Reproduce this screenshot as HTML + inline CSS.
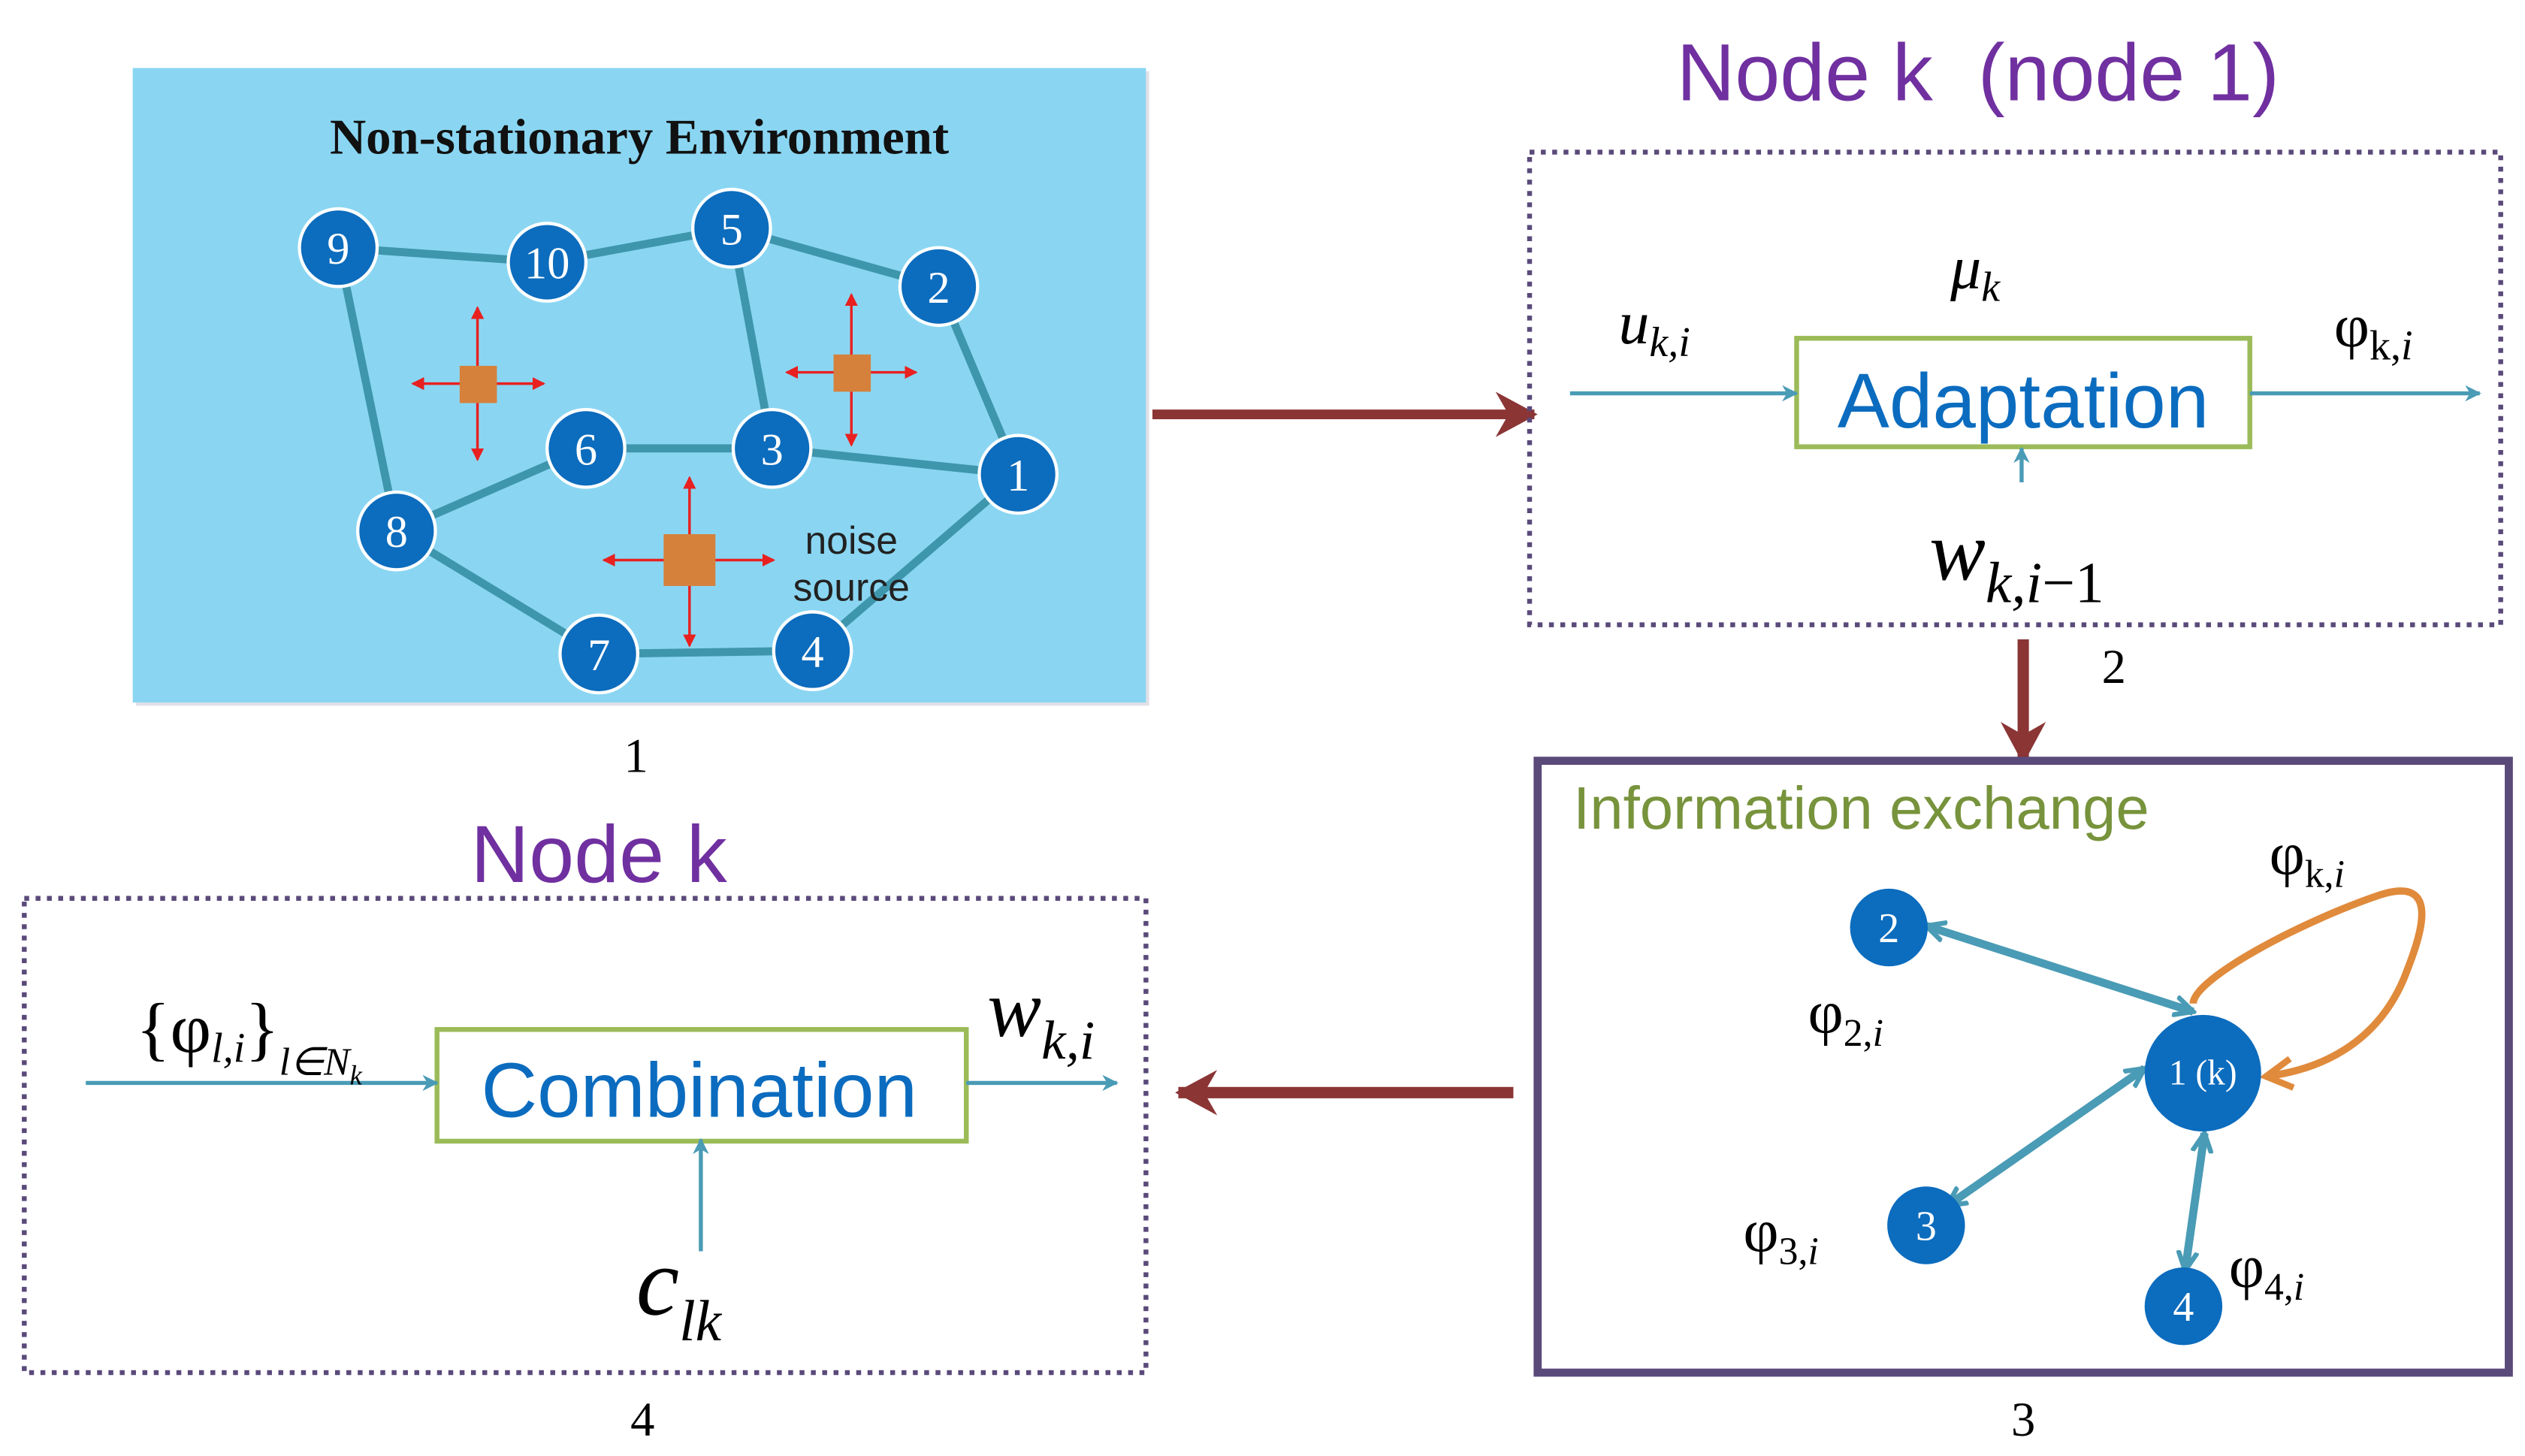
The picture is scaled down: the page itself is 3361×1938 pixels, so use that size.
<!DOCTYPE html>
<html><head><meta charset="utf-8"><style>html,body{margin:0;padding:0;background:#fff}svg{display:block}</style></head>
<body>
<svg width="3361" height="1938" viewBox="0 0 1560 899.5" preserveAspectRatio="none" xmlns="http://www.w3.org/2000/svg" font-family="Liberation Serif, serif">
<defs>
<marker id="tl" markerWidth="10" markerHeight="10" refX="9" refY="5" orient="auto" markerUnits="userSpaceOnUse"><path d="M0,0 L10,5 L0,10 L3,5 z" fill="#4a9bb5"/></marker>
<marker id="tb" markerWidth="14" markerHeight="14" refX="12" refY="7" orient="auto-start-reverse" markerUnits="userSpaceOnUse"><path d="M0,1 L12,7 L0,13" fill="none" stroke="#4a9bb5" stroke-width="3"/></marker>
<marker id="rd" markerWidth="8" markerHeight="8" refX="7" refY="4" orient="auto" markerUnits="userSpaceOnUse"><path d="M0,0 L8,4 L0,8 z" fill="#e82020"/></marker>
<marker id="dr" markerWidth="28" markerHeight="28" refX="24" refY="14" orient="auto" markerUnits="userSpaceOnUse"><path d="M0,0 L26,14 L0,28 L8,14 z" fill="#8b3535"/></marker>
<marker id="or" markerWidth="22" markerHeight="22" refX="18" refY="11" orient="auto" markerUnits="userSpaceOnUse"><path d="M2,2 L18,11 L2,20" fill="none" stroke="#e08a3c" stroke-width="4"/></marker>
</defs>
<!-- Panel 1 -->
<rect x="84" y="44" width="626" height="392" fill="#e0e0e6"/>
<rect x="82" y="42" width="626" height="392" fill="#8ad6f2"/>
<text x="395" y="95" font-size="31" font-weight="bold" text-anchor="middle" fill="#111">Non-stationary Environment</text>
<g stroke="#3e96ad" stroke-width="5" fill="none">
<line x1="209" y1="153" x2="338" y2="162"/><line x1="338" y1="162" x2="452" y2="141"/>
<line x1="452" y1="141" x2="580" y2="177"/><line x1="452" y1="141" x2="477" y2="277"/>
<line x1="580" y1="177" x2="629" y2="293"/><line x1="209" y1="153" x2="245" y2="328"/>
<line x1="245" y1="328" x2="362" y2="277"/><line x1="362" y1="277" x2="477" y2="277"/>
<line x1="477" y1="277" x2="629" y2="293"/><line x1="245" y1="328" x2="370" y2="404"/>
<line x1="370" y1="404" x2="502" y2="402"/><line x1="502" y1="402" x2="629" y2="293"/>
</g>
<g fill="#0c6cbd" stroke="#fff" stroke-width="2">
<circle cx="209" cy="153" r="24"/><circle cx="338" cy="162" r="24"/><circle cx="452" cy="141" r="24"/>
<circle cx="580" cy="177" r="24"/><circle cx="362" cy="277" r="24"/><circle cx="477" cy="277" r="24"/>
<circle cx="629" cy="293" r="24"/><circle cx="245" cy="328" r="24"/><circle cx="370" cy="404" r="24"/>
<circle cx="502" cy="402" r="24"/>
</g>
<g fill="#fff" font-size="28" text-anchor="middle">
<text x="209" y="163">9</text><text x="338" y="172">10</text><text x="452" y="151">5</text>
<text x="580" y="187">2</text><text x="362" y="287">6</text><text x="477" y="287">3</text>
<text x="629" y="303">1</text><text x="245" y="338">8</text><text x="370" y="414">7</text><text x="502" y="412">4</text>
</g>
<g stroke="#e82020" stroke-width="1.6" marker-end="url(#rd)">
<line x1="295" y1="237" x2="295" y2="190"/><line x1="295" y1="237" x2="295" y2="284"/><line x1="295" y1="237" x2="255" y2="237"/><line x1="295" y1="237" x2="336" y2="237"/>
<line x1="526" y1="230" x2="526" y2="182"/><line x1="526" y1="230" x2="526" y2="275"/><line x1="526" y1="230" x2="486" y2="230"/><line x1="526" y1="230" x2="566" y2="230"/>
<line x1="426" y1="346" x2="426" y2="295"/><line x1="426" y1="346" x2="426" y2="399"/><line x1="426" y1="346" x2="373" y2="346"/><line x1="426" y1="346" x2="478" y2="346"/>
</g>
<rect x="284" y="226" width="23" height="23" fill="#d5813c"/>
<rect x="515" y="219" width="23" height="23" fill="#d5813c"/>
<rect x="410" y="330" width="32" height="32" fill="#d5813c"/>
<g font-family="Liberation Sans, sans-serif" font-size="24" fill="#222" text-anchor="middle"><text x="526" y="342">noise</text><text x="526" y="371">source</text></g>
<text x="393" y="477" font-size="30" text-anchor="middle">1</text>
<!-- arrow 1->2 -->
<line x1="712" y1="256" x2="948" y2="256" stroke="#8b3535" stroke-width="6" marker-end="url(#dr)"/>
<!-- Panel 2 -->
<text x="1222" y="62" font-family="Liberation Sans, sans-serif" font-size="50" fill="#7030a0" text-anchor="middle" xml:space="preserve">Node k  (node 1)</text>
<rect x="945" y="94" width="600" height="292" fill="none" stroke="#5a4a7a" stroke-width="3" stroke-dasharray="3 4"/>
<rect x="1110" y="209" width="280" height="67" fill="#fff" stroke="#9bbb59" stroke-width="3"/>
<text x="1250" y="264" font-family="Liberation Sans, sans-serif" font-size="48" fill="#0b6cbf" text-anchor="middle">Adaptation</text>
<g stroke="#4a9bb5" stroke-width="2.5" marker-end="url(#tl)">
<line x1="970" y1="243" x2="1110" y2="243"/><line x1="1390" y1="243" x2="1532" y2="243"/><line x1="1249" y1="298" x2="1249" y2="277"/>
</g>
<text x="1000" y="212" font-size="38" font-style="italic">u<tspan font-size="26" dy="8">k,i</tspan></text>
<text x="1205" y="178" font-size="38" font-style="italic">μ<tspan font-size="26" dy="8">k</tspan></text>
<text x="1442" y="214" font-size="38">φ<tspan font-size="26" dy="8">k,<tspan font-style="italic">i</tspan></tspan></text>
<text x="1192" y="358" font-size="52" font-style="italic">w<tspan font-size="36" dy="14">k,i</tspan><tspan font-size="36" font-style="normal">−1</tspan></text>
<text x="1306" y="422" font-size="30" text-anchor="middle">2</text>
<line x1="1250" y1="395" x2="1250" y2="470" stroke="#8b3535" stroke-width="7" marker-end="url(#dr)"/>
<!-- Panel 3 -->
<rect x="950" y="470" width="600" height="378" fill="none" stroke="#5a4a7a" stroke-width="5"/>
<text x="972" y="512" font-family="Liberation Sans, sans-serif" font-size="37" fill="#77933c">Information exchange</text>
<g stroke="#4a9bb5" stroke-width="5" marker-end="url(#tb)" marker-start="url(#tb)">
<line x1="1190" y1="572" x2="1355" y2="625"/>
<line x1="1203" y1="745" x2="1325" y2="660"/>
<line x1="1350" y1="785" x2="1362" y2="700"/>
</g>
<path d="M1355,620 C1355,605 1420,570 1470,553 C1510,540 1495,580 1485,605 C1470,640 1440,660 1400,665" fill="none" stroke="#e08a3c" stroke-width="4.5" marker-end="url(#or)"/>
<g fill="#0c6cbd">
<circle cx="1167" cy="573" r="24"/><circle cx="1361" cy="663" r="36"/><circle cx="1190" cy="757" r="24"/><circle cx="1349" cy="807" r="24"/>
</g>
<g fill="#fff" font-size="26" text-anchor="middle">
<text x="1167" y="582">2</text><text x="1361" y="670" font-size="22">1 (k)</text><text x="1190" y="766">3</text><text x="1349" y="816">4</text>
</g>
<text x="1402" y="540" font-size="38">φ<tspan font-size="24" dy="8">k,<tspan font-style="italic">i</tspan></tspan></text>
<text x="1117" y="638" font-size="38">φ<tspan font-size="24" dy="8">2,<tspan font-style="italic">i</tspan></tspan></text>
<text x="1077" y="773" font-size="38">φ<tspan font-size="24" dy="8">3,<tspan font-style="italic">i</tspan></tspan></text>
<text x="1377" y="795" font-size="38">φ<tspan font-size="24" dy="8">4,<tspan font-style="italic">i</tspan></tspan></text>
<text x="1250" y="887" font-size="30" text-anchor="middle">3</text>
<line x1="935" y1="675" x2="728" y2="675" stroke="#8b3535" stroke-width="7" marker-end="url(#dr)"/>
<!-- Panel 4 -->
<text x="370" y="545" font-family="Liberation Sans, sans-serif" font-size="50" fill="#7030a0" text-anchor="middle">Node k</text>
<rect x="15" y="555" width="693" height="293" fill="none" stroke="#5a4a7a" stroke-width="3" stroke-dasharray="3 4"/>
<rect x="270" y="636" width="327" height="69" fill="#fff" stroke="#9bbb59" stroke-width="3"/>
<text x="432" y="690" font-family="Liberation Sans, sans-serif" font-size="48" fill="#0b6cbf" text-anchor="middle">Combination</text>
<g stroke="#4a9bb5" stroke-width="2.5" marker-end="url(#tl)">
<line x1="53" y1="669" x2="270" y2="669"/><line x1="597" y1="669" x2="690" y2="669"/><line x1="433" y1="773" x2="433" y2="704"/>
</g>
<text x="84" y="650" font-size="44">{φ<tspan font-size="26" font-style="italic" dy="6">l,i</tspan><tspan dy="-6">}</tspan><tspan font-size="24" font-style="italic" dy="14">l∈N</tspan><tspan font-size="17" font-style="italic" dy="6">k</tspan></text>
<text x="610" y="640" font-size="50" font-style="italic">w<tspan font-size="34" dy="14">k,i</tspan></text>
<text x="393" y="812" font-size="60" font-style="italic">c<tspan font-size="36" dy="16">lk</tspan></text>
<text x="397" y="887" font-size="30" text-anchor="middle">4</text>
</svg>
</body></html>
